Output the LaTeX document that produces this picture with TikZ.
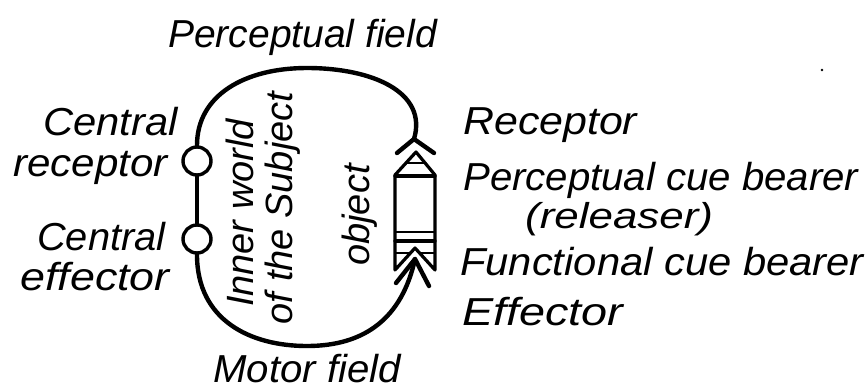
\documentclass[tikz,border=0pt]{standalone}
\usepackage{fontspec}
\usepackage{graphicx}
\setmainfont{Liberation Sans}
\newcommand{\sxt}[2]{\scalebox{#1}[1]{#2}}
\begin{document}
\begin{tikzpicture}[x=1pt,y=-1pt,line cap=round,line join=round,
  lbl/.style={font=\fontsize{39}{41}\selectfont\itshape,inner sep=0pt,anchor=base west},
  vlbl/.style={font=\fontsize{38}{40}\selectfont\itshape,inner sep=0pt,rotate=90},
  loopline/.style={line width=4.4pt},
  objline/.style={line width=3.2pt},
  stripe/.style={line width=2.3pt,line cap=butt},
  cnode/.style={circle,draw,line width=3.4pt,minimum size=28pt,inner sep=0pt}]
\useasboundingbox (0,0) rectangle (866,389);
\fill[white] (0,0) rectangle (866,389);

% central receptor / effector
\node[cnode] (cr) at (197,161) {};
\node[cnode] (ce) at (197,239) {};
\coordinate (recapex) at (414,139);
\coordinate (arrtip) at (415,259);

% perceptual arc
\draw[loopline] (cr.north) .. controls (197,95) and (245,68) .. (307,68)
  .. controls (372,68) and (428,92) .. (recapex);
\draw[loopline] (397,153) -- (recapex) -- (434,153);
% link between centres
\draw[loopline] (cr.south) -- (ce.north);
% motor arc with arrow
\draw[loopline] (ce.south) .. controls (197,320) and (250,346) .. (307,346)
  .. controls (365,346) and (402,318) .. (arrtip);
\draw[loopline] (396,283) -- (arrtip) -- (429,286);

% object (cue bearers)
\coordinate (tip) at (416,152);
\draw[objline] (tip) -- (395,175) -- (395,270) -- (415,248) -- (435,270) -- (435,175) -- cycle;
\draw[objline] (395,176) -- (435,176);
\draw[stripe] (406,163) -- (426,163);
\draw[stripe] (395,232) -- (435,232);
\draw[objline] (395,241) -- (435,241);
\draw[stripe] (395,253) -- (410,253);
\draw[stripe] (420,253) -- (435,253);

% speck
\fill (822,70) circle (1.3);

% labels
\node[lbl] (pf) at (168,47) {\sxt{1.0}{Perceptual field}};
\node[lbl] (mf) at (213,382) {\sxt{1.03}{Motor field}};
\node[lbl] (c1) at (43,135) {\sxt{1.07}{Central}};
\node[lbl] (c2) at (13,176) {\sxt{1.08}{receptor}};
\node[lbl] (c3) at (37,250) {\sxt{1.02}{Central}};
\node[lbl] (c4) at (20,290) {\sxt{1.15}{effector}};
\node[lbl] (r1) at (463,134) {\sxt{1.1}{Receptor}};
\node[lbl] (r2) at (463,190) {\sxt{1.03}{Perceptual cue bearer}};
\node[lbl,font=\fontsize{36}{38}\selectfont\itshape] (r3) at (525,228) {\sxt{1.22}{(releaser)}};
\node[lbl] (r4) at (460,275) {\sxt{1.07}{Functional cue bearer}};
\node[lbl] (r5) at (462,325) {\sxt{1.2}{Effector}};
\node[vlbl] (iw) at (240,213) {Inner world};
\node[vlbl] (os) at (283,208) {of the Subject};
\node[vlbl] (ob) at (360,215) {object};
\end{tikzpicture}
\end{document}
